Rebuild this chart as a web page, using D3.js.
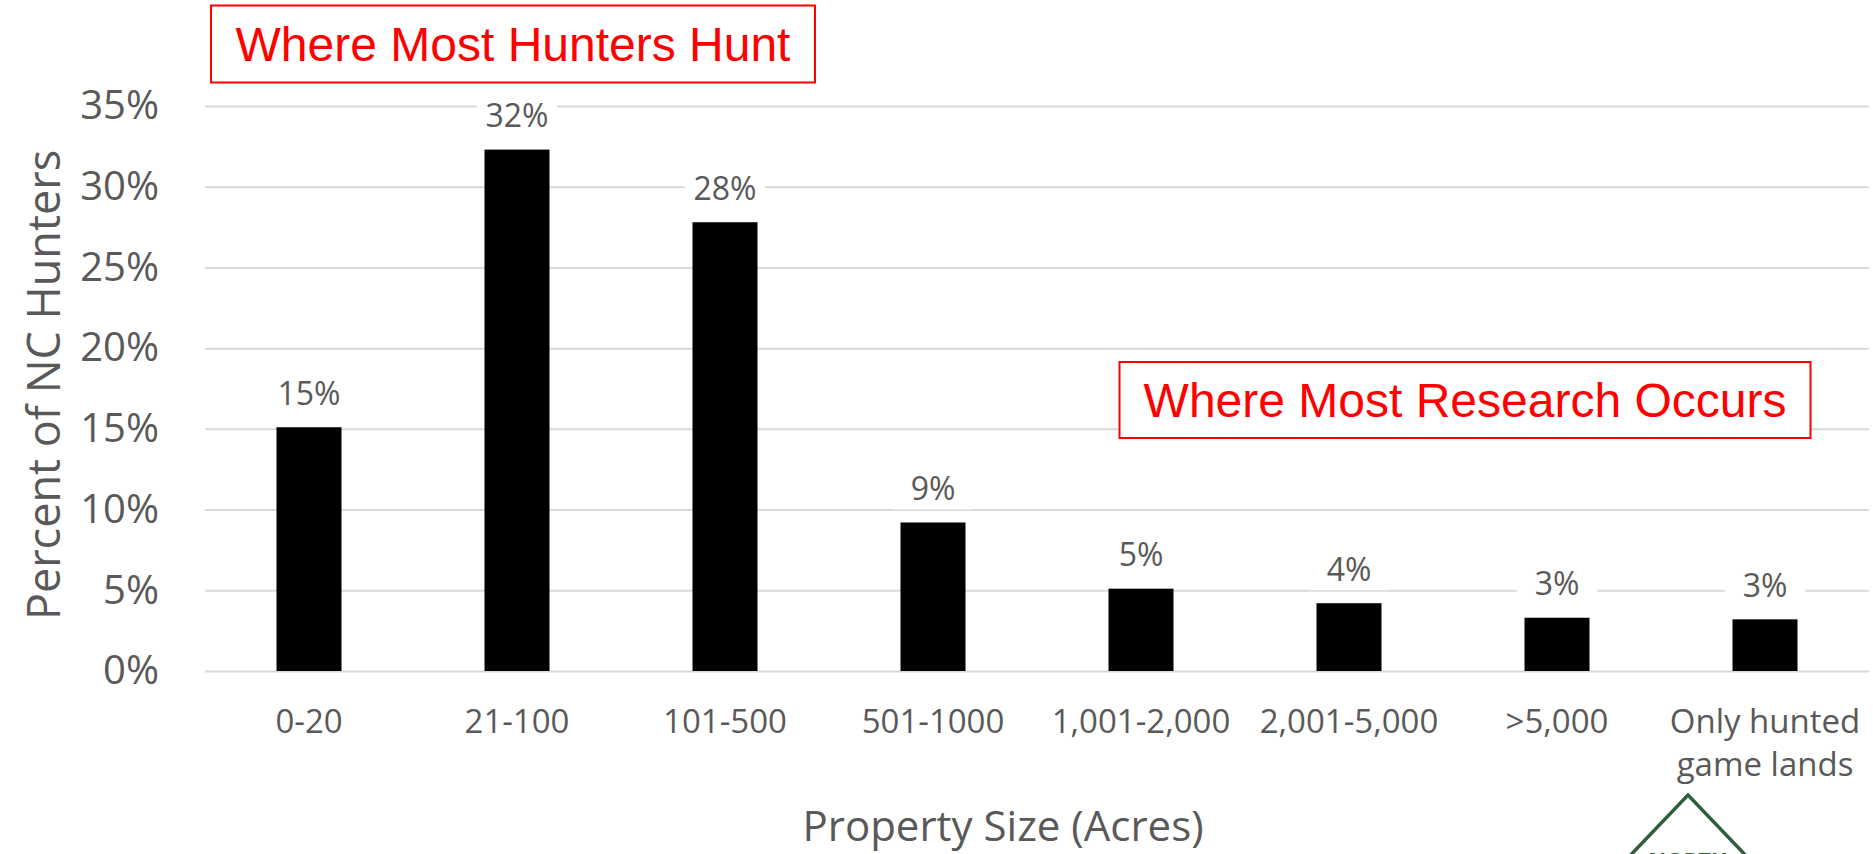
<!doctype html>
<html lang="en">
<head>
<meta charset="UTF-8">
<title>Percent of NC Hunters by Property Size</title>
<script src="https://d3js.org/d3.v7.min.js"></script>
<style>
  body { margin: 0; background: #fff; }
  svg { display: block; }
  text { font-family: "Open Sans", sans-serif; fill: #595959; }
</style>
</head>
<body>
<svg width="1873" height="854"></svg>
<script>

// Data
const categories = ["0-20", "21-100", "101-500", "501-1000", "1,001-2,000", "2,001-5,000", ">5,000", "Only hunted game lands"];
const percents = [15.1, 32.3, 27.8, 9.2, 5.1, 4.2, 3.3, 3.2];
const yTicks = [0, 5, 10, 15, 20, 25, 30, 35];
const yTitle = "Percent of NC Hunters";
const xTitle = "Property Size (Acres)";
const callouts = ["Where Most Hunters Hunt", "Where Most Research Occurs"];

const svg = d3.select("svg");
const plotLeft = 205, plotRight = 1869, plotTop = 106, plotBottom = 671;

// Scales
const x = d3.scaleBand()
    .domain(categories)
    .range([plotLeft, plotRight])
    .paddingInner(0.6875)
    .paddingOuter(0.34375);

const y = d3.scaleLinear()
    .domain([0, 35])
    .range([plotBottom, plotTop]);

// Gridlines + y tick labels
const yAxis = svg.append("g")
    .attr("transform", "translate(" + plotLeft + ",0)")
    .call(d3.axisLeft(y)
        .tickValues(yTicks)
        .tickFormat(d => d + "%")
        .tickSize(-(plotRight - plotLeft))
        .tickPadding(46));
yAxis.select(".domain").remove();
yAxis.selectAll(".tick line").attr("stroke", "#d9d9d9").attr("stroke-width", 2);
yAxis.selectAll(".tick text")
    .attr("font-size", 40)
    .attr("font-family", "Open Sans, sans-serif")
    .attr("fill", "#595959");

// Callout boxes (white fill hides the gridlines behind)
function callout(label, cx, cy, w, h) {
  const g = svg.append("g");
  g.append("rect")
      .attr("x", cx - w / 2).attr("y", cy - h / 2)
      .attr("width", w).attr("height", h)
      .attr("fill", "#fff").attr("stroke", "#ff0000").attr("stroke-width", 2);
  g.append("text")
      .attr("x", cx).attr("y", cy + 17)
      .attr("text-anchor", "middle")
      .style("font-family", "'Liberation Sans', Arial, sans-serif")
      .style("fill", "#ff0000")
      .attr("font-size", 48)
      .text(label);
}
callout(callouts[0], 513, 44, 604, 77);
callout(callouts[1], 1465, 400, 691, 76);

// Bars
svg.append("g")
  .selectAll("rect")
  .data(percents)
  .join("rect")
    .attr("x", (d, i) => x(categories[i]))
    .attr("y", d => y(d))
    .attr("width", x.bandwidth())
    .attr("height", d => y(0) - y(d))
    .attr("fill", "#000");

// Value labels with white backing
const lab = svg.append("g")
  .selectAll("g")
  .data(percents)
  .join("g")
    .attr("transform", (d, i) => "translate(" + (x(categories[i]) + x.bandwidth() / 2) + "," + (y(d) - 34) + ")");
lab.append("rect")
    .attr("x", -40).attr("y", -21)
    .attr("width", 80).attr("height", 42)
    .attr("fill", "#fff");
lab.append("text")
    .attr("text-anchor", "middle")
    .attr("dy", "0.36em")
    .attr("font-size", 32)
    .text(d => Math.round(d) + "%");

// X category labels (wrapped)
const xAxis = svg.append("g")
    .attr("transform", "translate(0," + plotBottom + ")")
    .call(d3.axisBottom(x).tickSize(0).tickPadding(0));
xAxis.select(".domain").remove();
xAxis.selectAll(".tick text")
    .attr("font-size", 33)
    .attr("font-family", "Open Sans, sans-serif")
    .attr("fill", "#595959")
    .attr("y", 50)
    .attr("dy", null)
    .each(function (d) {
      const t = d3.select(this);
      const words = d.split(" ");
      t.text(null);
      let line = [];
      let tspan = t.append("tspan").attr("x", 0).attr("y", 50).attr("dy", "0.36em");
      let lineNo = 0;
      words.forEach(w => {
        line.push(w);
        tspan.text(line.join(" "));
        if (tspan.node().getComputedTextLength() > 200 && line.length > 1) {
          line.pop();
          tspan.text(line.join(" "));
          line = [w];
          lineNo++;
          tspan = t.append("tspan").attr("x", 0).attr("y", 50 + lineNo * 43).attr("dy", "0.36em").text(w);
        }
      });
    });

// Axis titles
svg.append("text")
    .attr("transform", "translate(44,385) rotate(-90)")
    .attr("text-anchor", "middle")
    .attr("dy", "0.36em")
    .attr("font-size", 45)
    .text(yTitle);

svg.append("text")
    .attr("x", 1003).attr("y", 826)
    .attr("text-anchor", "middle")
    .attr("dy", "0.36em")
    .attr("font-size", 42)
    .text(xTitle);

// Logo peeking in at the bottom right
const logo = svg.append("g");
logo.append("path")
    .attr("d", "M1624,862 L1688,795 L1752,862")
    .attr("fill", "none")
    .attr("stroke", "#2f5e3e")
    .attr("stroke-width", 3.5);
logo.append("text")
    .attr("x", 1688).attr("y", 868)
    .attr("text-anchor", "middle")
    .attr("font-size", 22)
    .attr("font-weight", "bold")
    .style("fill", "#2f5e3e")
    .text("NORTH");

</script>
</body>
</html>
